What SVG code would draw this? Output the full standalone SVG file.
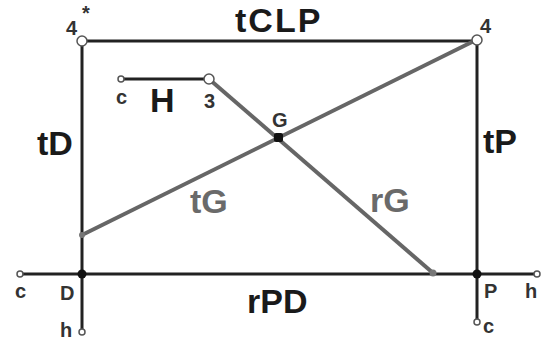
<svg xmlns="http://www.w3.org/2000/svg" width="542" height="341" viewBox="0 0 542 341">
<style>
.blk{stroke:#222;stroke-width:3;fill:none;stroke-linecap:butt}
.gry{stroke:#666;stroke-width:4;fill:none}
.open{fill:#fff;stroke:#555;stroke-width:1.5}
.big{font-family:"Liberation Sans",Arial,sans-serif;font-weight:bold;font-size:34px;fill:#1a1a1a}
.bigg{font-family:"Liberation Sans",Arial,sans-serif;font-weight:bold;font-size:34px;fill:#6a6a6a}
.sm{font-family:"Liberation Sans",Arial,sans-serif;font-weight:bold;font-size:20px;fill:#333}
</style>
<rect width="542" height="341" fill="#fff"/>
<g id="connectors">
<line class="blk" x1="82" y1="41" x2="477" y2="41"/>
<line class="blk" x1="82" y1="41" x2="82" y2="332"/>
<line class="blk" x1="477" y1="41" x2="477" y2="322"/>
<line class="blk" x1="21" y1="274" x2="536" y2="274"/>
<line class="blk" x1="121" y1="79" x2="209" y2="79"/>
<line class="gry" x1="82" y1="235" x2="476" y2="40"/>
<line class="gry" x1="209" y1="79" x2="433" y2="273"/>
</g>
<g id="node-4star"><circle class="open" cx="82" cy="41" r="5"/><text class="sm" x="66" y="35" font-weight="normal">4</text><text class="sm" x="82" y="20" font-size="13">*</text></g>
<g id="node-4"><circle class="open" cx="477" cy="40" r="5"/><text class="sm" x="480" y="33" font-weight="normal">4</text></g>
<g id="node-3"><circle class="open" cx="209" cy="79" r="5"/><text class="sm" x="204" y="108" font-weight="normal">3</text></g>
<g id="node-c-H"><circle class="open" cx="121" cy="79" r="3"/><text class="sm" x="116" y="104">c</text></g>
<g id="node-G"><rect x="274" y="133" width="9" height="9" rx="2" fill="#111"/><text class="sm" x="272" y="127" font-weight="normal" font-size="18">G</text></g>
<g id="node-D"><circle cx="82" cy="274" r="4.5" fill="#111"/><text class="sm" x="60" y="300">D</text></g>
<g id="node-P"><circle cx="477" cy="274" r="4.5" fill="#111"/><text class="sm" x="484" y="298">P</text></g>
<g id="node-c-left"><circle class="open" cx="20" cy="274" r="3"/><text class="sm" x="15" y="298">c</text></g>
<g id="node-h-right"><circle class="open" cx="537" cy="274" r="3"/><text class="sm" x="525" y="298">h</text></g>
<g id="node-h-left"><circle class="open" cx="82" cy="332" r="3"/><text class="sm" x="60" y="337">h</text></g>
<g id="node-c-right"><circle class="open" cx="477" cy="322" r="3"/><text class="sm" x="483" y="333">c</text></g>
<g id="node-tG-end"><circle cx="82" cy="235" r="3" fill="#777"/></g>
<g id="node-rG-end"><circle cx="433" cy="273" r="3.5" fill="#777"/></g>
<g id="labels">
<text class="big" x="235" y="32" letter-spacing="2">tCLP</text>
<text class="big" x="150" y="112">H</text>
<text class="big" x="37" y="155">tD</text>
<text class="big" x="483" y="153">tP</text>
<text class="bigg" x="190" y="213">tG</text>
<text class="bigg" x="370" y="212">rG</text>
<text class="big" x="247" y="313">rPD</text>
</g>
</svg>
